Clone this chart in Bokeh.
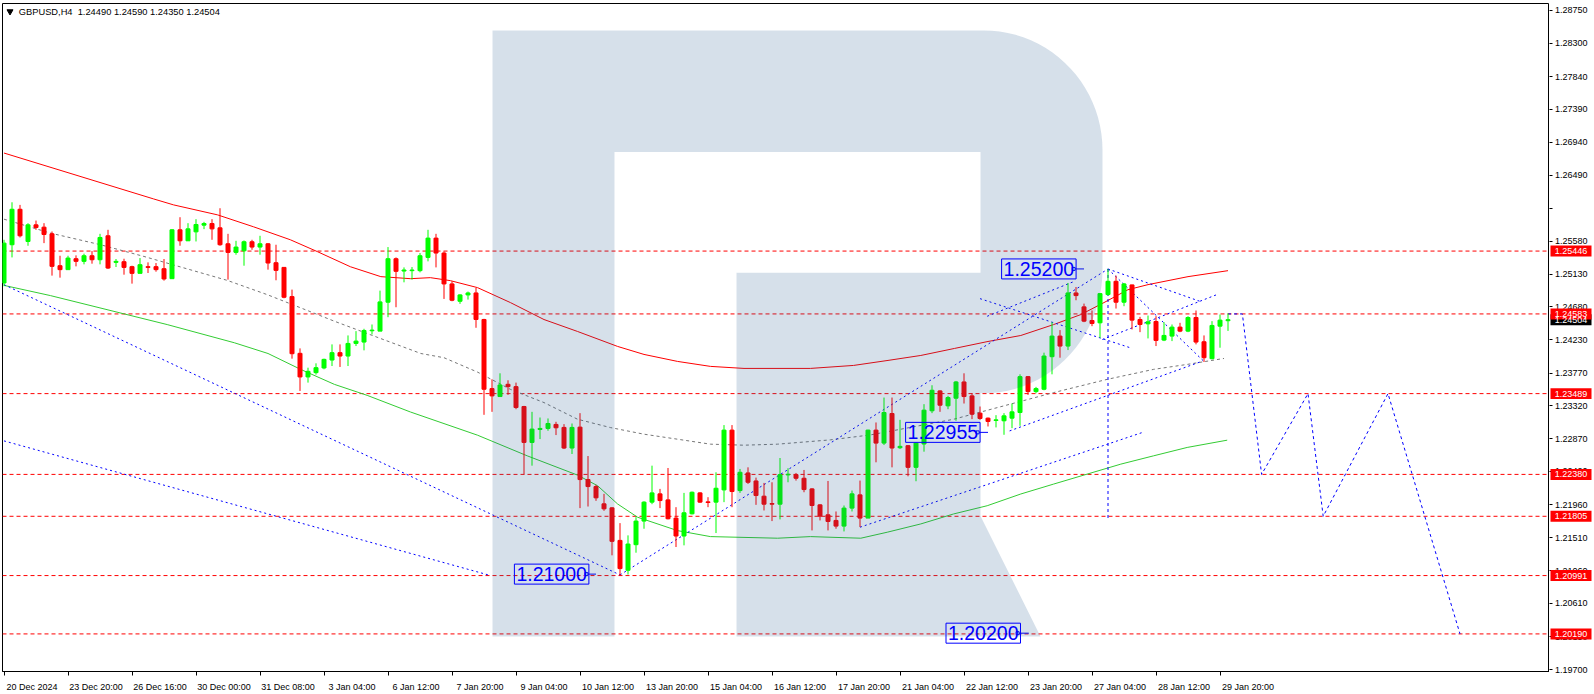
import numpy as np
from bokeh.plotting import figure
from bokeh.layouts import row
from bokeh.models import Range1d, FixedTicker, Label, ColumnDataSource
from bokeh.embed import file_html
from bokeh.resources import INLINE
from bokeh.core.properties import value

# ---------------- data ----------------
symbol_header = "GBPUSD,H4\u00a0\u00a01.24490 1.24590 1.24350 1.24504"

opens = [1.25008, 1.25533, 1.26020, 1.25578, 1.25806, 1.25774, 1.25683, 1.25245, 1.25191, 1.25341,
 1.25305, 1.25382, 1.25327, 1.25656, 1.25291, 1.25300, 1.25232, 1.25140, 1.25232, 1.25232,
 1.25204, 1.25067, 1.25738, 1.25587, 1.25710, 1.25802, 1.25824, 1.25765, 1.25546, 1.25428,
 1.25450, 1.25574, 1.25501, 1.25546, 1.25286, 1.25222, 1.24821, 1.24042, 1.23718, 1.23777,
 1.23841, 1.23950, 1.24051, 1.24005, 1.24178, 1.24197, 1.24352, 1.24347, 1.24744, 1.25341,
 1.25172, 1.25177, 1.25177, 1.25359, 1.25624, 1.25419, 1.24995, 1.24757, 1.24844, 1.24871,
 1.24507, 1.23558, 1.23449, 1.23617, 1.23585, 1.23312, 1.22819, 1.22997, 1.23011, 1.23066,
 1.23025, 1.22742, 1.23029, 1.22309, 1.22213, 1.21976, 1.21921, 1.21474, 1.21064, 1.21415,
 1.21739, 1.21999, 1.22113, 1.22030, 1.21780, 1.21534, 1.21839, 1.22126, 1.22003, 1.21999,
 1.22167, 1.22988, 1.22158, 1.22400, 1.22290, 1.22081, 1.21980, 1.21971, 1.22373, 1.22377,
 1.22327, 1.22181, 1.21962, 1.21825, 1.21748, 1.21670, 1.21917, 1.22099, 1.21780, 1.22988,
 1.22810, 1.23216, 1.22746, 1.22774, 1.22477, 1.22797, 1.23253, 1.23526, 1.23321, 1.23426,
 1.23649, 1.23458, 1.23221, 1.23152, 1.23120, 1.23116, 1.23152, 1.23230, 1.23722, 1.23517,
 1.23549, 1.23996, 1.24279, 1.24142, 1.24871, 1.24680, 1.24493, 1.24461, 1.24849, 1.25031,
 1.24744, 1.24981, 1.24507, 1.24447, 1.24479, 1.24224, 1.24279, 1.24402, 1.24347, 1.24534,
 1.24201, 1.23969, 1.24415, 1.24490]
highs = [1.25601, 1.26116, 1.26080, 1.25829, 1.25865, 1.25829, 1.25715, 1.25382, 1.25382, 1.25387,
 1.25410, 1.25446, 1.25683, 1.25738, 1.25337, 1.25341, 1.25245, 1.25350, 1.25291, 1.25282,
 1.25337, 1.25747, 1.25911, 1.25829, 1.25884, 1.25847, 1.25884, 1.26034, 1.25683, 1.25587,
 1.25592, 1.25601, 1.25656, 1.25555, 1.25533, 1.25227, 1.24917, 1.24110, 1.23845, 1.23905,
 1.23969, 1.24165, 1.24165, 1.24288, 1.24347, 1.24379, 1.24438, 1.24903, 1.25501, 1.25359,
 1.25222, 1.25227, 1.25419, 1.25738, 1.25683, 1.25441, 1.25031, 1.24853, 1.24890, 1.24940,
 1.24516, 1.23686, 1.23768, 1.23672, 1.23640, 1.23321, 1.23239, 1.23161, 1.23148, 1.23102,
 1.23070, 1.23079, 1.23221, 1.22632, 1.22236, 1.22113, 1.21930, 1.21711, 1.21543, 1.21793,
 1.22012, 1.22500, 1.22181, 1.22468, 1.21930, 1.22126, 1.22145, 1.22135, 1.22067, 1.22409,
 1.23057, 1.23057, 1.22455, 1.22477, 1.22336, 1.22263, 1.22272, 1.22605, 1.22464, 1.22400,
 1.22441, 1.22190, 1.21971, 1.22290, 1.21871, 1.21953, 1.22158, 1.22295, 1.22993, 1.23093,
 1.23435, 1.23435, 1.23129, 1.22783, 1.22819, 1.23344, 1.23604, 1.23535, 1.23458, 1.23663,
 1.23768, 1.23494, 1.23312, 1.23161, 1.23193, 1.23221, 1.23353, 1.23754, 1.23731, 1.23581,
 1.24051, 1.24470, 1.24361, 1.25008, 1.24953, 1.24725, 1.24630, 1.24871, 1.25200, 1.25109,
 1.25008, 1.24985, 1.24543, 1.24561, 1.24552, 1.24470, 1.24438, 1.24461, 1.24552, 1.24630,
 1.24288, 1.24484, 1.24575, 1.24590]
lows = [1.24963, 1.25359, 1.25633, 1.25519, 1.25738, 1.25555, 1.25109, 1.25081, 1.25191, 1.25236,
 1.25264, 1.25273, 1.25264, 1.25200, 1.25227, 1.25122, 1.24999, 1.25140, 1.25145, 1.25163,
 1.25040, 1.25067, 1.25519, 1.25587, 1.25578, 1.25747, 1.25601, 1.25519, 1.25054, 1.25396,
 1.25245, 1.25464, 1.25396, 1.25191, 1.25045, 1.24798, 1.23969, 1.23526, 1.23640, 1.23750,
 1.23823, 1.23868, 1.23855, 1.23868, 1.24142, 1.24083, 1.24301, 1.24347, 1.24538, 1.24675,
 1.25017, 1.25054, 1.25154, 1.25305, 1.25222, 1.24789, 1.24757, 1.24721, 1.24780, 1.24393,
 1.23198, 1.23239, 1.23449, 1.23472, 1.23275, 1.22382, 1.22500, 1.22865, 1.22979, 1.22920,
 1.22728, 1.22660, 1.21917, 1.21939, 1.22017, 1.21880, 1.21269, 1.20991, 1.21005, 1.21305,
 1.21634, 1.21971, 1.21917, 1.21762, 1.21383, 1.21406, 1.21830, 1.21990, 1.21930, 1.21575,
 1.21999, 1.21930, 1.22126, 1.22249, 1.21962, 1.21885, 1.21739, 1.21762, 1.22272, 1.22295,
 1.22135, 1.21611, 1.21748, 1.21611, 1.21634, 1.21597, 1.21871, 1.21657, 1.21780, 1.22546,
 1.22783, 1.22477, 1.22728, 1.22354, 1.22286, 1.22692, 1.23221, 1.23239, 1.23275, 1.23116,
 1.23353, 1.23139, 1.23129, 1.23038, 1.23025, 1.22924, 1.23015, 1.23047, 1.23472, 1.23494,
 1.23535, 1.23754, 1.23982, 1.24087, 1.24771, 1.24470, 1.24415, 1.24256, 1.24835, 1.24657,
 1.24689, 1.24370, 1.24333, 1.24247, 1.24142, 1.24210, 1.24210, 1.24333, 1.24333, 1.24165,
 1.23923, 1.23959, 1.24119, 1.24350]
closes = [1.25555, 1.26020, 1.25656, 1.25806, 1.25770, 1.25674, 1.25236, 1.25191, 1.25350, 1.25305,
 1.25382, 1.25327, 1.25633, 1.25213, 1.25305, 1.25222, 1.25140, 1.25259, 1.25222, 1.25191,
 1.25063, 1.25738, 1.25587, 1.25751, 1.25811, 1.25824, 1.25751, 1.25533, 1.25428, 1.25501,
 1.25574, 1.25501, 1.25546, 1.25282, 1.25181, 1.24812, 1.24037, 1.23718, 1.23795, 1.23845,
 1.23959, 1.24051, 1.24005, 1.24178, 1.24210, 1.24356, 1.24361, 1.24748, 1.25341, 1.25168,
 1.25186, 1.25186, 1.25382, 1.25624, 1.25419, 1.24995, 1.24771, 1.24844, 1.24871, 1.24507,
 1.23549, 1.23458, 1.23608, 1.23585, 1.23298, 1.22819, 1.23002, 1.23011, 1.23079, 1.23020,
 1.22742, 1.23025, 1.22309, 1.22213, 1.22058, 1.21907, 1.21461, 1.21087, 1.21424, 1.21739,
 1.21999, 1.22126, 1.22021, 1.21771, 1.21534, 1.21853, 1.22135, 1.21999, 1.21994, 1.22190,
 1.22988, 1.22145, 1.22409, 1.22272, 1.22090, 1.21971, 1.21971, 1.22377, 1.22382, 1.22327,
 1.22172, 1.21953, 1.21807, 1.21734, 1.21670, 1.21917, 1.22113, 1.21780, 1.22988, 1.22810,
 1.23230, 1.22742, 1.22765, 1.22477, 1.22810, 1.23262, 1.23535, 1.23330, 1.23435, 1.23649,
 1.23449, 1.23207, 1.23148, 1.23107, 1.23129, 1.23184, 1.23239, 1.23722, 1.23517, 1.23558,
 1.24005, 1.24279, 1.24142, 1.24871, 1.24835, 1.24484, 1.24452, 1.24862, 1.25031, 1.24744,
 1.24995, 1.24498, 1.24438, 1.24475, 1.24219, 1.24288, 1.24402, 1.24347, 1.24534, 1.24197,
 1.23982, 1.24425, 1.24498, 1.24504]
bar_index = list(range(len(opens)))

date_labels = ["20 Dec 2024", "23 Dec 20:00", "26 Dec 16:00", "30 Dec 00:00", "31 Dec 08:00",
               "3 Jan 04:00", "6 Jan 12:00", "7 Jan 20:00", "9 Jan 04:00", "10 Jan 12:00",
               "13 Jan 20:00", "15 Jan 04:00", "16 Jan 12:00", "17 Jan 20:00", "21 Jan 04:00",
               "22 Jan 12:00", "23 Jan 20:00", "27 Jan 04:00", "28 Jan 12:00", "29 Jan 20:00"]
date_label_bars = [0, 8, 16, 24, 32, 40, 48, 56, 64, 72, 80, 88, 96, 104, 112, 120, 128, 136, 144, 152]

price_ticks = [1.28750, 1.28300, 1.27840, 1.27390, 1.26940, 1.26490, 1.26035, 1.25580, 1.25130,
               1.24680, 1.24230, 1.23770, 1.23320, 1.22870, 1.22420, 1.21960, 1.21510, 1.21060,
               1.20610, 1.20150, 1.19700]
price_tick_labels = ["1.28750", "1.28300", "1.27840", "1.27390", "1.26940", "1.26490", "", "1.25580",
                     "1.25130", "1.24680", "1.24230", "1.23770", "1.23320", "1.22870", "1.22420",
                     "1.21960", "1.21510", "1.21060", "1.20610", "1.20150", "1.19700"]

levels = [1.25446, 1.24583, 1.23489, 1.22380, 1.21805, 1.20991, 1.20190]
current_price = 1.24504

# moving averages
ma_red_x = [0, 18.7, 21.2, 26.7, 31.2, 35.8, 39.2, 43.3, 47.1, 50.8, 53.3, 55.8, 59.2, 63.3, 67.5,
            71.7, 76.7, 80, 84.2, 88.3, 92.5, 100.8, 106.2, 110.5, 114.6, 118.8, 123, 127.1, 131.2,
            134.6, 137.5, 140.5, 143, 148, 153]
ma_red_y = [1.26792, 1.26162, 1.26080, 1.25943, 1.25779, 1.25601, 1.25437, 1.25231, 1.25095,
            1.25067, 1.25081, 1.25040, 1.24944, 1.24739, 1.24506, 1.24342, 1.24137, 1.24027,
            1.23931, 1.23863, 1.23835, 1.23835, 1.23876, 1.23945, 1.24013, 1.24109, 1.24205,
            1.24287, 1.24437, 1.24574, 1.24739, 1.24916, 1.24985, 1.25095, 1.25177]
ma_green_x = [0, 5.8, 15, 20.4, 28.8, 33, 37.1, 41.3, 45.4, 50.8, 59.2, 65.4, 71.7, 74.2, 76.7, 79.2,
              84.2, 88.3, 96.7, 100.8, 107.1, 110.4, 114.6, 118.7, 122.9, 127.1, 131.2, 135.4,
              139.6, 143.7, 147.9, 152.9]
ma_green_y = [1.24975, 1.24835, 1.24584, 1.24437, 1.24187, 1.24040, 1.23821, 1.23616, 1.23465,
              1.23237, 1.22918, 1.22635, 1.22370, 1.22224, 1.21974, 1.21792, 1.21608, 1.21526,
              1.21504, 1.21526, 1.21504, 1.21586, 1.21700, 1.21837, 1.21950, 1.22111, 1.22247,
              1.22384, 1.22521, 1.22635, 1.22750, 1.22850]
ma_gray_x = [0, 5.8, 12.1, 17.5, 22.1, 27.9, 32.9, 37.1, 41.3, 45.4, 52.1, 55, 59.2, 63.3, 67.5,
             71.7, 75.8, 80, 84.2, 88.3, 92.5, 96.7, 103.3, 108.3, 118.7, 122.9, 131.2, 137.9,
             143.7, 147.9, 152.5]
ma_gray_y = [1.25884, 1.25693, 1.25532, 1.25372, 1.25227, 1.25044, 1.24848, 1.24666, 1.24483,
             1.24314, 1.24040, 1.23982, 1.23784, 1.23548, 1.23366, 1.23137, 1.23023, 1.22932,
             1.22863, 1.22795, 1.22781, 1.22795, 1.22854, 1.22922, 1.23137, 1.23260, 1.23503,
             1.23685, 1.23822, 1.23890, 1.23972]

# analysis lines (bar, price)
trend_x0 = [0, 0, 77, 107, 125.7, 122, 138, 138, 137.3, 122.9]
trend_y0 = [1.24985, 1.22840, 1.21000, 1.21655, 1.22977, 1.24793, 1.25200, 1.25200, 1.24232, 1.24551]
trend_x1 = [77, 60.8, 138, 142.5, 149.8, 140.8, 150, 149.5, 151.6, 133.7]
trend_y1 = [1.21000, 1.20992, 1.25200, 1.22963, 1.23935, 1.24118, 1.23930, 1.24756, 1.24848, 1.25026]
vline_bar, vline_top, vline_bottom = 138, 1.25200, 1.21780

forecast_x = [153, 154.8, 157.2, 163, 164.9, 173, 182]
forecast_y = [1.24583, 1.24583, 1.22380, 1.23489, 1.21805, 1.23489, 1.20190]

note_texts = ["1.25200", "1.22955", "1.21000", "1.20200"]
note_left_bar = [124.7, 112.7, 63.8, 117.75]
note_price = [1.25201, 1.22957, 1.21011, 1.20200]
note_tail_x0 = [133.7, 121.7, 72.8, 126.7]
note_tail_x1 = [135.0, 123.0, 74.0, 128.1]

# ---------------- layout constants ----------------
W, H = 1594, 694
AXW = 45                 # width of the price-axis strip
FW = W - AXW - 2         # chart frame width (left border 2px)
X0 = -0.1875
X1 = X0 + FW / 8.0
Y0, Y1 = 1.19674, 1.28845
PX = 0.00013688          # price per pixel
FONT = "Liberation Sans"

p = figure(width=W - AXW, height=H, output_backend="svg", toolbar_location=None, title=None,
           x_range=Range1d(X0, X1), y_range=Range1d(Y0, Y1), y_axis_location=None,
           min_border_left=2, min_border_top=3, min_border_right=0, min_border_bottom=21)
p.xgrid.visible = False
p.ygrid.visible = False
p.outline_line_color = "black"
p.outline_line_width = 1
p.background_fill_color = "white"
p.border_fill_color = "white"

# time axis
xa = p.xaxis[0]
label_centers = [b + 3.5 for b in date_label_bars]
xa.ticker = FixedTicker(ticks=label_centers, minor_ticks=date_label_bars)
xa.major_label_overrides = {c: t for c, t in zip(label_centers, date_labels)}
xa.major_tick_out = 0
xa.major_tick_in = 0
xa.minor_tick_out = 4
xa.minor_tick_in = 0
xa.minor_tick_line_color = "black"
xa.axis_line_color = "black"
xa.major_label_standoff = 6
xa.major_label_text_font = FONT
xa.major_label_text_font_size = "9px"
xa.major_label_text_color = "black"

# horizontal levels
for lv in levels:
    p.line([X0, X1], [lv, lv], line_color="#ff0000", line_dash="4 3", line_width=1)

# moving averages
p.line(ma_red_x, ma_red_y, line_color="#ff0000", line_width=1)
p.line(ma_green_x, ma_green_y, line_color="#33cc33", line_width=1)
p.line(ma_gray_x, ma_gray_y, line_color="#777777", line_width=1, line_dash="3 3")

# analysis lines
p.segment(x0=trend_x0, y0=trend_y0, x1=trend_x1, y1=trend_y1, line_color="#0000ff",
          line_dash="2 3", line_width=1)
p.segment(x0=[vline_bar], y0=[vline_top], x1=[vline_bar], y1=[vline_bottom],
          line_color="#0000ff", line_dash="3 3", line_width=1)
p.line(forecast_x, forecast_y, line_color="#0000ff", line_dash="3 3", line_width=1)

# candles
up = [c >= o for o, c in zip(opens, closes)]
src = ColumnDataSource(dict(
    x=bar_index,
    top=[max(o, c) for o, c in zip(opens, closes)],
    bottom=[min(o, c) for o, c in zip(opens, closes)],
    high=highs, low=lows,
    color=["#00ff00" if u else "#ff0000" for u in up]))
p.segment(x0="x", y0="high", x1="x", y1="low", line_color="color", line_width=1, source=src)
p.vbar(x="x", width=0.5, top="top", bottom="bottom", fill_color="color", line_color="color",
       line_width=1, source=src)

# note tails
p.segment(x0=note_tail_x0, y0=note_price, x1=note_tail_x1, y1=note_price, line_color="#0000ff",
          line_width=1)
p.scatter(note_tail_x0, note_price, marker="square", size=3, fill_color="white",
          line_color="#0000ff")

# background logo (semi-transparent overlay), geometry in reference pixels
def to_bar(x):
    return (np.asarray(x, dtype=float) - 3.5) / 8.0

def to_price(y):
    return 1.28886 - PX * np.asarray(y, dtype=float)

def arc(cx, cy, rx, ry, a0, a1, n=24):
    t = np.linspace(np.radians(a0), np.radians(a1), n)
    return list(cx + rx * np.cos(t)), list(cy - ry * np.sin(t))

lx, ly = [492, 983], [30, 30]
ax_, ay_ = arc(983, 150, 119, 120, 90, 0)
lx += ax_; ly += ay_
ax_, ay_ = arc(983, 270, 119, 124, 0, -90)
lx += ax_; ly += ay_
lx += [980, 980, 1040, 736, 736, 980, 980, 614, 614, 492]
ly += [394, 517, 638, 638, 273, 273, 152, 152, 638, 638]
p.patch(list(to_bar(lx)), list(to_price(ly)), fill_color=(33, 87, 141), fill_alpha=0.184,
        line_color=None)

# header
p.scatter([0.75], [1.28735], marker="inverted_triangle", size=6, color="black")
p.add_layout(Label(x=1.85, y=1.28735, text=symbol_header, text_font=FONT,
                   text_font_size="9.3px", text_color="black", text_baseline="middle",
                   text_align="left"))

# note boxes
for t, xb, yb in zip(note_texts, note_left_bar, note_price):
    p.add_layout(Label(x=xb, y=yb, text=t, text_font=FONT, text_font_size="19.5px",
                       text_color="#0000ff", text_baseline="middle", text_align="left",
                       border_line_color="#0000ff", border_line_width=1,
                       padding=dict(left=2, right=2, top=3, bottom=3)))

# ---------------- price axis strip ----------------
q = figure(width=AXW, height=H, output_backend="svg", toolbar_location=None, title=None,
           x_range=Range1d(0, AXW), y_range=p.y_range, x_axis_location=None,
           y_axis_location="left", min_border_left=0, min_border_top=3, min_border_right=0,
           min_border_bottom=21)
q.xgrid.visible = False
q.ygrid.visible = False
q.outline_line_color = None
q.background_fill_color = "white"
q.border_fill_color = "white"

ya = q.yaxis[0]
ya.ticker = FixedTicker(ticks=price_ticks, minor_ticks=[])
ya.major_label_overrides = {t: s for t, s in zip(price_ticks, price_tick_labels)}
ya.major_tick_out = 0
ya.major_tick_in = 3
ya.minor_tick_out = 0
ya.minor_tick_in = 0
ya.axis_line_color = None
ya.major_tick_line_color = "black"
ya.major_label_standoff = -38
ya.major_label_text_font = FONT
ya.major_label_text_font_size = "9px"
ya.major_label_text_color = "black"

half = 5.5 * PX
tag_prices = [current_price] + levels
tag_colors = ["black"] + ["#ff0000"] * len(levels)
q.quad(left=[1] * len(tag_prices), right=[42] * len(tag_prices),
       bottom=[t - half for t in tag_prices], top=[t + half for t in tag_prices],
       fill_color=tag_colors, line_color=None, level="overlay")
q.text(x=[5.3] * len(tag_prices), y=tag_prices, text=[f"{t:.5f}" for t in tag_prices],
       text_color="white", text_font=value(FONT), text_font_size="9px",
       text_baseline="middle", text_align="left", level="overlay")

layout = row(p, q, spacing=0)
open("out.html", "w").write(file_html(layout, INLINE, title="GBPUSD H4"))
